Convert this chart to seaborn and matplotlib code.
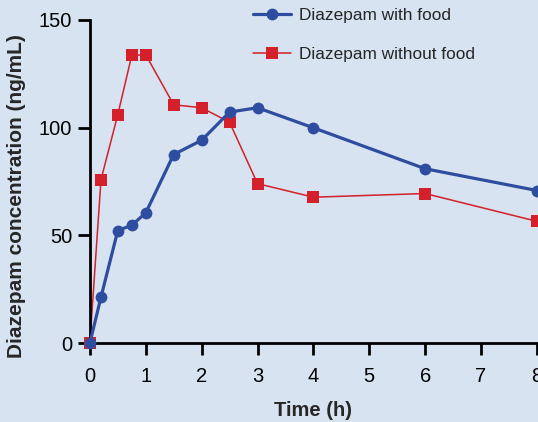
import pandas as pd
import matplotlib
matplotlib.use("Agg")
import matplotlib.pyplot as plt
import seaborn as sns

# Tempos de coleta (h) e concentrações
tempo = [0, 0.2, 0.5, 0.75, 1, 1.5, 2, 2.5, 3, 4, 6, 8]
com_comida = [0, 21.4, 52.2, 54.7, 60.4, 87.5, 94.1, 107.2, 109.2, 99.9, 80.9, 70.8]
sem_comida = [0, 75.9, 106, 133.5, 133.8, 110.6, 109.2, 102.5, 74, 67.7, 69.4, 56.5]
x_ticks = [0, 1, 2, 3, 4, 5, 6, 7, 8]
y_ticks = [0, 50, 100, 150]

fundo = "#d7e3f0"
azul = "#2f4da0"
vermelho = "#d3202a"

sns.set_theme(style="ticks")
plt.rcParams['font.family'] = ['Liberation Sans', 'DejaVu Sans']

fig = plt.figure(figsize=(5.38, 4.22), dpi=100, facecolor=fundo)
ax = fig.add_axes([0.167, 0.187, 0.831, 0.766], facecolor=fundo)

df = pd.DataFrame({'tempo': tempo, 'com': com_comida, 'sem': sem_comida})

sns.lineplot(data=df, x='tempo', y='com', ax=ax, color=azul, linewidth=2.3,
             marker='o', markersize=8.5, markeredgewidth=0, label='Diazepam with food',
             clip_on=False, zorder=3)
sns.lineplot(data=df, x='tempo', y='sem', ax=ax, color=vermelho, linewidth=1.1,
             marker='s', markersize=9, markeredgewidth=0, label='Diazepam without food',
             clip_on=False, zorder=2)

ax.set_xlim(0, 8)
ax.set_ylim(0, 150)
ax.set_xticks(x_ticks)
ax.set_yticks(y_ticks)
ax.tick_params(axis='both', direction='out', length=8.6, width=2, labelsize=14.5,
               colors='black')
ax.tick_params(axis='x', pad=8.5)
ax.tick_params(axis='y', pad=4)
for s in ['top', 'right']:
    ax.spines[s].set_visible(False)
for s in ['left', 'bottom']:
    ax.spines[s].set_linewidth(2)
    ax.spines[s].set_color('black')

ax.set_xlabel('Time (h)', fontsize=14.5, fontweight='bold', labelpad=11)
ax.set_ylabel('Diazepam concentration (ng/mL)', fontsize=15, fontweight='bold')
ax.yaxis.set_label_coords(-0.143, 0.455)

leg = ax.legend(loc='upper left', bbox_to_anchor=(0.33, 1.085), frameon=False,
                fontsize=12.4, labelspacing=1.4, handlelength=2.2, handletextpad=0.5)

fig.savefig('out.png', dpi=100, facecolor=fundo)
